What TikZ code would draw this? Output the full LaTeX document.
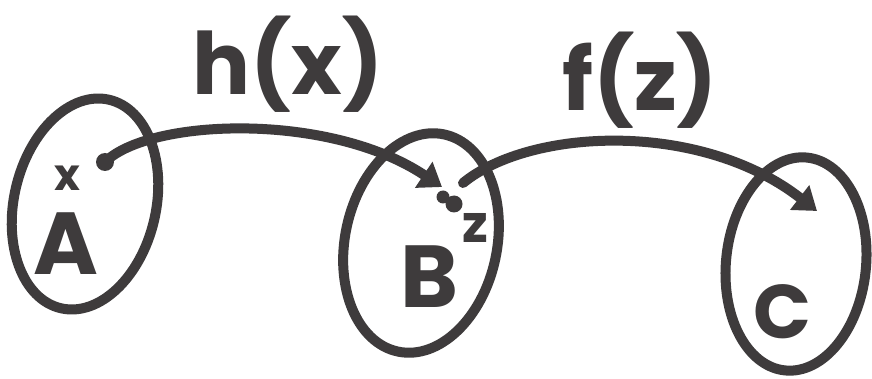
\documentclass[tikz,border=0pt]{standalone}
\usepackage{fontspec}
\setmainfont{Poppins}
\usetikzlibrary{shapes.geometric,arrows.meta}
\definecolor{ink}{HTML}{3E3B3C}
\tikzset{
  setbox/.style={draw=ink, line width=10pt, ellipse, inner sep=0pt},
  letter/.style={text=ink, font=\fontsize{88}{88}\selectfont\bfseries, inner sep=0pt},
  fname/.style={text=ink, font=\fontsize{86}{86}\selectfont\bfseries, inner sep=0pt},
  dotm/.style={circle, fill=ink, inner sep=0pt},
  mapto/.style={draw=ink, line width=10pt, line cap=round, -{Triangle[length=22pt,width=30pt]}},
}
\begin{document}
\begin{tikzpicture}[x=1pt,y=-1pt]
\useasboundingbox (0,0) rectangle (872,379);
\fill[white] (0,0) rectangle (872,379);
% sets
\node[setbox, minimum width=142pt, minimum height=214pt, rotate=-13] (A) at (85,204) {};
\node[setbox, minimum width=152pt, minimum height=222pt, rotate=-12] (B) at (421,243) {};
\node[setbox, minimum width=140pt, minimum height=214pt, rotate=-6] (C) at (796,264) {};
% letters
\node[letter] (la) at (66,244) {A};
\node[letter] (lb) at (429,277) {B};
\node[letter, font=\fontsize{76}{76}\selectfont\bfseries] (lc) at (782,312) {C};
% points
\node[dotm, minimum size=18pt] (p) at (105,162) {};
\node[text=ink, font=\fontsize{44}{44}\selectfont\bfseries, inner sep=0pt] (xm) at (67,178) {x};
\node[dotm, minimum size=13pt] (q1) at (443,197) {};
\node[dotm, minimum size=17pt] (q2) at (454,204) {};
\node[text=ink, font=\fontsize{52}{52}\selectfont\bfseries, inner sep=0pt] (zm) at (475,228) {z};
\coordinate (s2) at (463,183);
\coordinate (e1) at (442,187);
\coordinate (e2) at (817,211);
% maps
\draw[mapto] (p.center) .. controls (150,118) and (330,112) .. (e1);
\draw[mapto] (s2) .. controls (530,128) and (700,120) .. (e2);
% labels
\node[fname] (h) at (288,64) {h(x)};
\node[fname] (f) at (640,80) {f(z)};
\end{tikzpicture}
\end{document}
